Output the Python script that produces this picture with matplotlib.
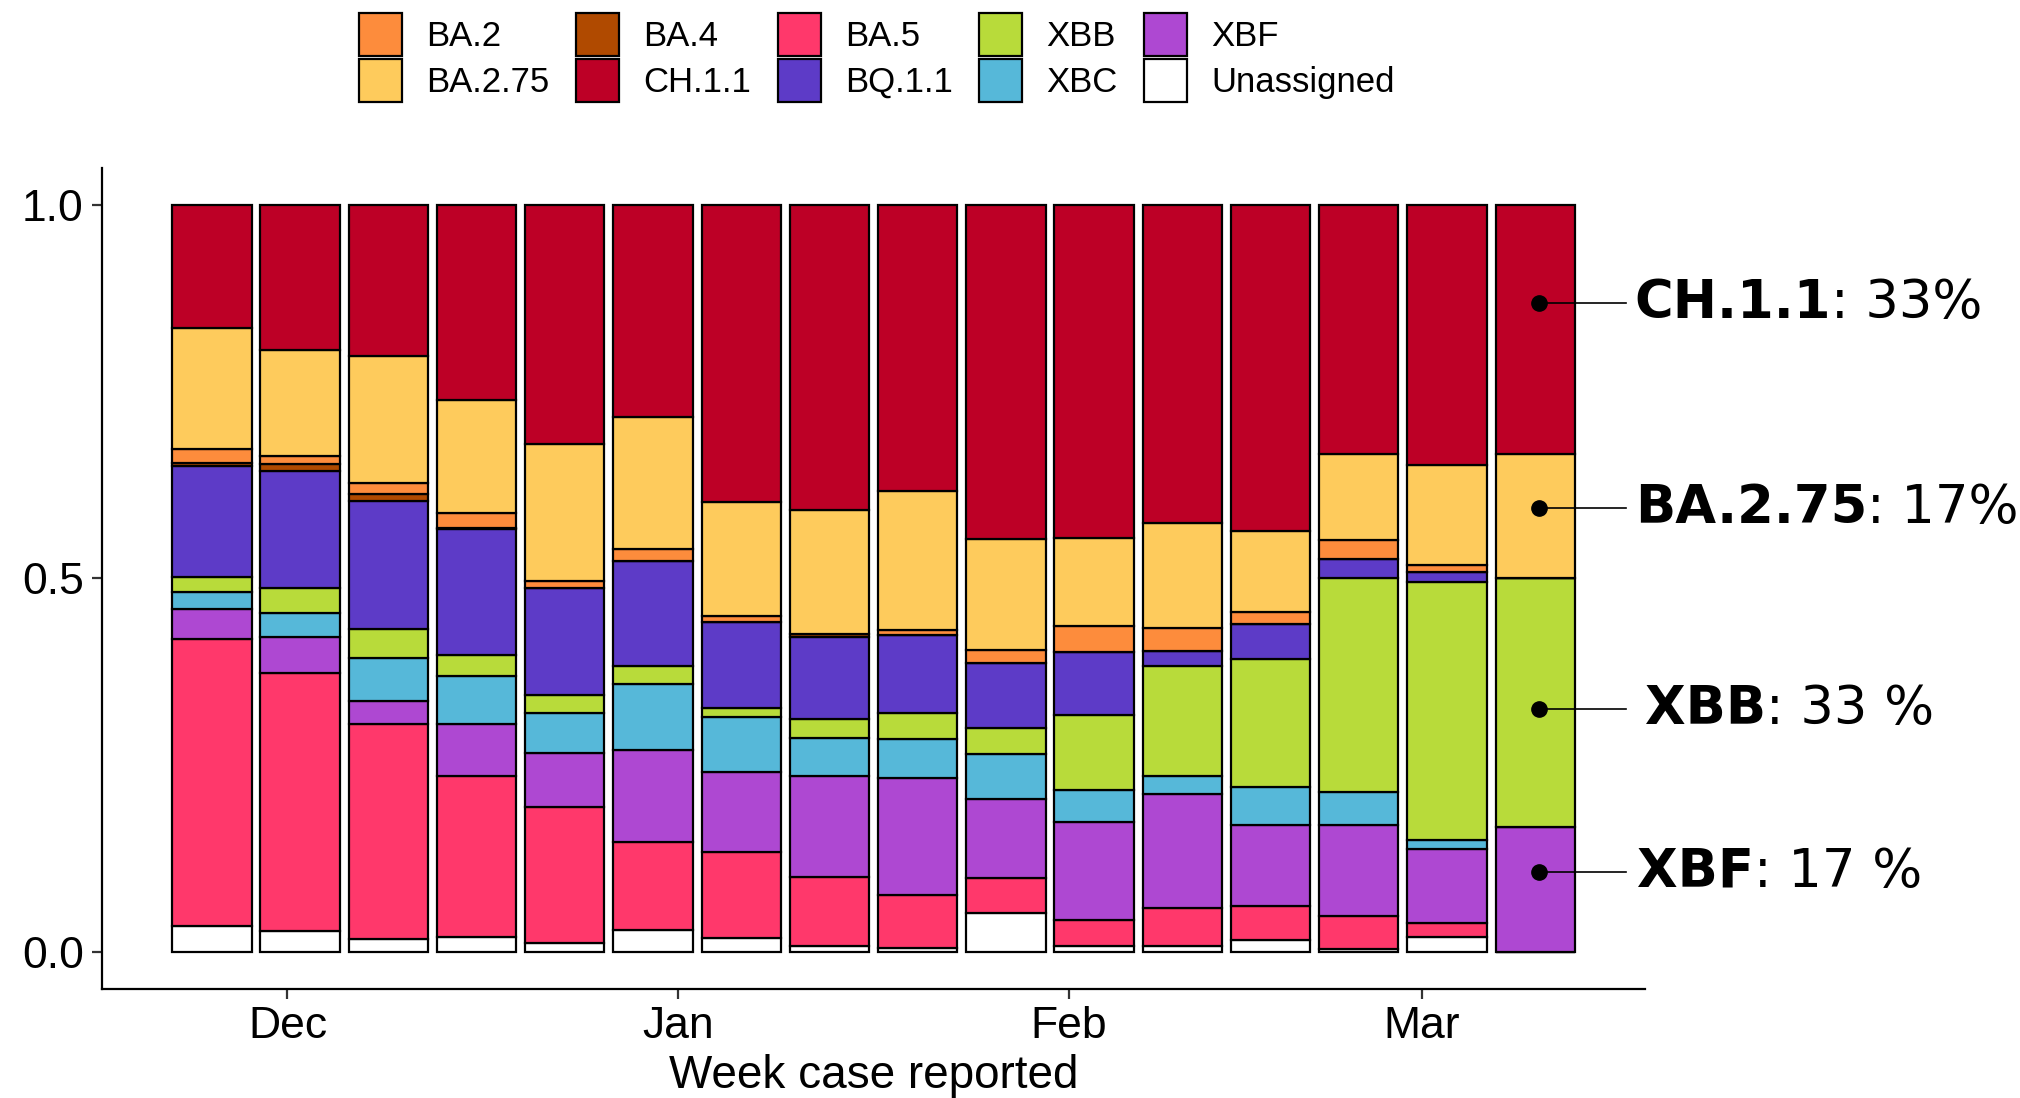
import numpy as np
import matplotlib
matplotlib.use("Agg")
import matplotlib.pyplot as plt
import matplotlib.dates as mdates
from matplotlib.offsetbox import TextArea, HPacker, AnnotationBbox

# ---------------- data ----------------
weeks = ["2022-11-25", "2022-12-02", "2022-12-09", "2022-12-16", "2022-12-23",
         "2022-12-30", "2023-01-06", "2023-01-13", "2023-01-20", "2023-01-27",
         "2023-02-03", "2023-02-10", "2023-02-17", "2023-02-24", "2023-03-03",
         "2023-03-10"]

unassigned = [0.034, 0.027, 0.017, 0.020, 0.012, 0.029, 0.018, 0.007, 0.005, 0.052, 0.007, 0.008, 0.015, 0.003, 0.020, 0.0]
ba5        = [0.385, 0.346, 0.288, 0.215, 0.182, 0.118, 0.115, 0.093, 0.071, 0.046, 0.036, 0.051, 0.046, 0.045, 0.018, 0.0]
xbf        = [0.040, 0.049, 0.031, 0.070, 0.072, 0.123, 0.107, 0.135, 0.156, 0.106, 0.130, 0.152, 0.109, 0.121, 0.099, 0.1667]
xbc        = [0.022, 0.032, 0.057, 0.065, 0.054, 0.089, 0.074, 0.051, 0.053, 0.061, 0.044, 0.024, 0.051, 0.045, 0.013, 0.0]
xbb        = [0.021, 0.033, 0.039, 0.027, 0.024, 0.024, 0.012, 0.026, 0.034, 0.035, 0.100, 0.148, 0.171, 0.287, 0.345, 0.3333]
bq11       = [0.149, 0.157, 0.172, 0.169, 0.143, 0.140, 0.116, 0.109, 0.105, 0.086, 0.084, 0.019, 0.047, 0.025, 0.013, 0.0]
ba4        = [0.003, 0.009, 0.009, 0.002, 0.0, 0.0, 0.0, 0.004, 0.0, 0.0, 0.0, 0.0, 0.0, 0.0, 0.0, 0.0]
ba2        = [0.019, 0.011, 0.015, 0.020, 0.009, 0.016, 0.007, 0.0, 0.007, 0.018, 0.035, 0.032, 0.016, 0.025, 0.010, 0.0]
ba275      = [0.162, 0.142, 0.169, 0.152, 0.184, 0.177, 0.153, 0.166, 0.186, 0.149, 0.118, 0.140, 0.108, 0.115, 0.134, 0.1667]
ch11       = [0.165, 0.194, 0.203, 0.261, 0.320, 0.284, 0.398, 0.409, 0.383, 0.447, 0.446, 0.426, 0.437, 0.334, 0.348, 0.3333]

series = {
    "Unassigned": unassigned, "BA.5": ba5, "XBF": xbf, "XBC": xbc, "XBB": xbb,
    "BQ.1.1": bq11, "BA.4": ba4, "BA.2": ba2, "BA.2.75": ba275, "CH.1.1": ch11,
}
stack_order = ["Unassigned", "BA.5", "XBF", "XBC", "XBB", "BQ.1.1", "BA.4", "BA.2", "BA.2.75", "CH.1.1"]
legend_order = ["BA.2", "BA.2.75", "BA.4", "CH.1.1", "BA.5", "BQ.1.1", "XBB", "XBC", "XBF", "Unassigned"]

colors = {
    "BA.2": "#FD8C3C", "BA.2.75": "#FECB5C", "BA.4": "#B04A00", "CH.1.1": "#BD0026",
    "BA.5": "#FF386B", "BQ.1.1": "#5D3BC7", "XBB": "#B8DB3A", "XBC": "#56B8D9",
    "XBF": "#AE48D2", "Unassigned": "#FFFFFF",
}

month_ticks = ["2022-12-01", "2023-01-01", "2023-02-01", "2023-03-01"]
month_labels = ["Dec", "Jan", "Feb", "Mar"]

annot_bold = ["CH.1.1", "BA.2.75", "XBB", "XBF"]
annot_rest = [": 33%", ": 17%", ": 33 %", ": 17 %"]
annot_y = [0.869, 0.594, 0.325, 0.107]

# ---------------- plot ----------------
plt.rcParams["font.family"] = ["Liberation Sans", "DejaVu Sans"]

fig = plt.figure(figsize=(20.2, 10.98), dpi=100)
ax = fig.add_axes([0.0505, 0.0993, 0.8144 - 0.0505, 0.8474 - 0.0993])

x = mdates.date2num(np.array(weeks, dtype="datetime64[D]"))
width = 6.3
total = np.sum([np.array(v, float) for v in series.values()], axis=0)

bottom = np.zeros(len(x))
handles = {}
for name in stack_order:
    h = np.array(series[name], float) / total
    b = ax.bar(x, h, width=width, bottom=bottom, color=colors[name],
               edgecolor="black", linewidth=1.6, label=name, zorder=2)
    handles[name] = b
    bottom = bottom + h

pad = (x[-1] - x[0] + width) * 0.05
ax.set_xlim(x[0] - width / 2 - pad, x[-1] + width / 2 + pad)
ax.set_ylim(-0.05, 1.05)

ax.set_xticks(mdates.date2num(np.array(month_ticks, dtype="datetime64[D]")))
ax.set_xticklabels(month_labels)
ax.set_yticks([0.0, 0.5, 1.0])
ax.set_yticklabels(["0.0", "0.5", "1.0"])

for s in ["top", "right"]:
    ax.spines[s].set_visible(False)
for s in ["left", "bottom"]:
    ax.spines[s].set_linewidth(1.6)
    ax.spines[s].set_color("black")
ax.tick_params(axis="both", length=7.2, width=1.6, color="#333333", labelsize=32, labelcolor="black")
ax.tick_params(axis="y", pad=6)
ax.tick_params(axis="x", pad=5)

ax.set_xlabel("Week case reported", fontsize=33)
ax.xaxis.set_label_coords(0.5, -0.106)
ax.xaxis.label.set_va("center")

# legend
leg = fig.legend([handles[n] for n in legend_order], legend_order, ncol=5,
                 loc="upper left", bbox_to_anchor=(359 / 2020, 1 - 13 / 1098),
                 frameon=False, fontsize=25, handlelength=1.24, handleheight=1.53,
                 labelspacing=0.09, handletextpad=0.69, columnspacing=0.77,
                 borderpad=0, borderaxespad=0)

# annotations on the last bar
xl = x[-1]
text_off = [7.9, 7.9, 8.7, 8.1]
for lab, rest, yv, toff in zip(annot_bold, annot_rest, annot_y, text_off):
    ax.plot([xl, xl + 7.2], [yv, yv], color="black", lw=1.2, clip_on=False, zorder=4)
    ax.plot([xl + 0.3], [yv], "o", color="black", ms=11, clip_on=False, zorder=5)
    t1 = TextArea(lab, textprops=dict(fontfamily="DejaVu Sans", fontweight="bold", fontsize=38))
    t2 = TextArea(rest, textprops=dict(fontfamily="DejaVu Sans", fontsize=38))
    box = HPacker(children=[t1, t2], align="baseline", pad=0, sep=0)
    ab = AnnotationBbox(box, (xl + toff, yv), xycoords="data", box_alignment=(0, 0.5),
                        frameon=False, pad=0, annotation_clip=False)
    ax.add_artist(ab)

fig.savefig("out.png", dpi=100, facecolor="white")
